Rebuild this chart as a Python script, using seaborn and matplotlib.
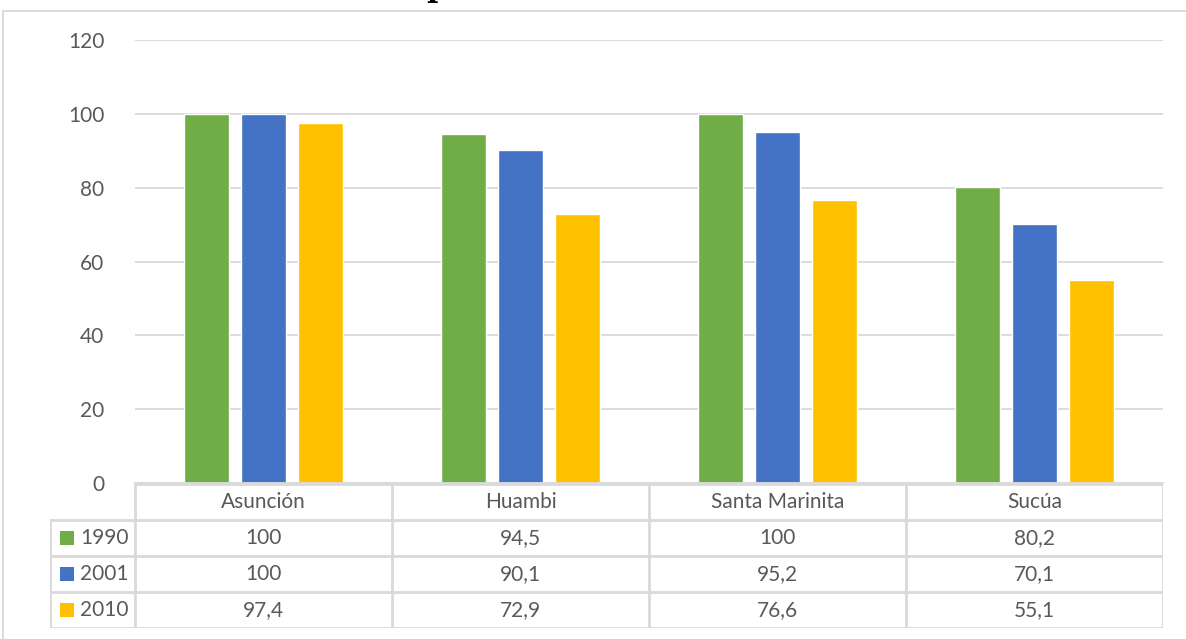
import pandas as pd
import numpy as np
import matplotlib.pyplot as plt
import seaborn as sns
from matplotlib.patches import Rectangle
from matplotlib.lines import Line2D

# data
categories = ['Asunción', 'Huambi', 'Santa Marinita', 'Sucúa']
years = ['1990', '2001', '2010']
v1990 = [100, 94.5, 100, 80.2]
v2001 = [100, 90.1, 95.2, 70.1]
v2010 = [97.4, 72.9, 76.6, 55.1]
yticks = [0, 20, 40, 60, 80, 100, 120]
colors = ['#70AD47', '#4472C4', '#FFC000']

df = pd.DataFrame({
    'lugar': categories * 3,
    'anio': np.repeat(years, len(categories)),
    'valor': v1990 + v2001 + v2010,
})

sns.set_style('white')
plt.rcParams['font.family'] = ['Lato', 'DejaVu Sans']
txt = '#595959'
grid = '#D9D9D9'
fs = 15

W, H = 1186, 639
fig = plt.figure(figsize=(W / 100, H / 100), dpi=100)

def fx(px):
    return px / W

def fy(py):
    return 1 - py / H

# main plot area
ax = fig.add_axes([fx(135), fy(483), fx(1163) - fx(135), fy(40) - fy(483)])
sns.barplot(data=df, x='lugar', y='valor', hue='anio', palette=colors,
            width=0.668, gap=0.21, ax=ax, legend=False, saturation=1)
ax.set_xlim(-0.5, 3.5)
ax.set_ylim(0, 120)
ax.set_yticks(yticks)
ax.set_yticklabels([str(t) for t in yticks], color=txt, fontsize=fs)
ax.set_xticks([])
ax.set_xlabel('')
ax.set_ylabel('')
ax.yaxis.grid(True, color=grid, linewidth=1.3)
ax.set_axisbelow(True)
ax.tick_params(axis='y', length=0, pad=22)
for s in ['top', 'right', 'left']:
    ax.spines[s].set_visible(False)
ax.spines['bottom'].set_color(grid)
ax.spines['bottom'].set_linewidth(1.3)

# data table under the chart (one x unit = one category column)
leg_w = 85 / 257
tab = fig.add_axes([fx(50), fy(628), fx(1163) - fx(50), fy(484) - fy(628)])
tab.set_xlim(-0.5 - leg_w, 3.5)
tab.set_ylim(4, 0)
tab.axis('off')
lw = 2
for i in range(5):
    x = -0.5 + i
    tab.plot([x, x], [0, 4], color=grid, lw=lw, solid_capstyle='butt')
xl = -0.5 - leg_w
tab.plot([xl, xl], [1, 4], color=grid, lw=lw)
for r in [1, 2, 3, 4]:
    tab.plot([xl, 3.5], [r, r], color=grid, lw=lw)
tab.plot([-0.5, 3.5], [0, 0], color=grid, lw=lw)

for i, c in enumerate(categories):
    tab.text(i, 0.5, c, ha='center', va='center', color=txt, fontsize=fs)
rows = [v1990, v2001, v2010]
for r, (yr, vals) in enumerate(zip(years, rows)):
    for i, v in enumerate(vals):
        tab.text(i, r + 1.5, f'{v:g}'.replace('.', ','), ha='center', va='center',
                 color=txt, fontsize=fs)
    tab.add_patch(Rectangle((xl + 10 / 257, r + 1.5 - 0.19), 14 / 257, 0.385,
                            color=colors[r], lw=0))
    tab.text(xl + 30 / 257, r + 1.5, yr, ha='left', va='center', color=txt, fontsize=fs)

# outer chart frame
fig.add_artist(Line2D([fx(3), fx(3)], [fy(11), 0], color=grid, lw=1.3))
fig.add_artist(Line2D([fx(3), 1], [fy(11), fy(11)], color=grid, lw=1.3))

# title sits above the visible area, only the foot of one letter shows
fig.text(fx(437), fy(-4), 'p', fontsize=22, fontweight='bold', family='DejaVu Serif',
         ha='center', va='baseline', color='black')

fig.savefig('out.png', dpi=100)
